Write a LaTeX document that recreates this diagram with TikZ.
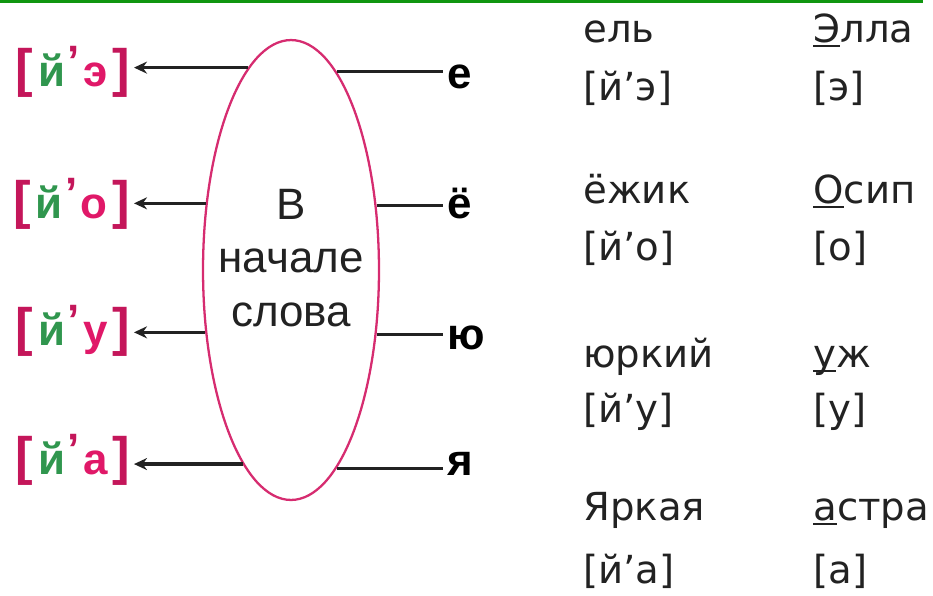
\documentclass[tikz,border=0pt]{standalone}
\usepackage{fontspec}
\setmainfont{Liberation Sans}
\newfontfamily\dejavu{DejaVu Sans}
\usetikzlibrary{shapes.geometric,arrows.meta}
\definecolor{jred}{RGB}{196,22,90}
\definecolor{jpink}{RGB}{224,24,104}
\definecolor{jgreen}{RGB}{48,150,78}
\definecolor{ovalpink}{RGB}{214,44,112}
\definecolor{topgreen}{RGB}{16,150,16}
\definecolor{ink}{RGB}{34,34,34}
% [й'x] with coloured parts
\newcommand{\ylab}[1]{{\fontsize{30}{30}\selectfont\color{jred}[}\kern0.12em{\color{jgreen}й}\kern0.05em\raisebox{0.22em}{\color{jred}’}\kern0.08em{\color{jpink}#1}\kern0.1em{\fontsize{30}{30}\selectfont\color{jred}]}}
\newcommand{\vowelline}[1]{\setbox0\hbox{#1}\rlap{\rule[-0.14em]{\wd0}{0.06em}}\box0}

\begin{document}
\begin{tikzpicture}[x=0.02cm, y=-0.02cm,
  sound/.style={anchor=base east, inner sep=0.08cm, font=\bfseries\fontsize{25}{25}\selectfont},
  letter/.style={anchor=base west, inner sep=0.08cm, text=black, font=\bfseries\fontsize{25}{25}\selectfont},
  word/.style={anchor=base west, inner sep=0pt, text=ink, font=\dejavu\fontsize{22}{22}\selectfont},
  pointer/.style={line width=1.8pt, draw=ink, -{Stealth[length=0.26cm,width=0.24cm]}},
  link/.style={line width=1.8pt, draw=ink}]
  \useasboundingbox (0,0) rectangle (933,595);
  \fill[topgreen] (0,0) rectangle (923,3);

  \node[ellipse, draw=ovalpink, line width=1.3pt, minimum width=3.52cm,
    minimum height=9.2cm, inner sep=0pt] (oval) at (291,270) {};
  \node[align=center, text=ink, font=\fontsize{25}{30.5}\selectfont] (inside)
    at (291,258) {В\\начале\\слова};

  \node[sound] (ye) at (134,86)  {\ylab{э}};
  \node[sound] (yo) at (134,218) {\ylab{о}};
  \node[sound] (yu) at (134,345) {\ylab{у}};
  \node[sound] (ya) at (134,474) {\ylab{а}};

  \node[letter] (le) at (443,88)  {е};
  \node[letter] (lo) at (443,218) {ё};
  \node[letter] (lu) at (443,349) {ю};
  \node[letter] (la) at (443,475) {я};

  \draw[pointer] (oval.102.75) -- (oval.102.75 -| ye.east);
  \draw[pointer] (oval.142.4)  -- (oval.142.4 -| yo.east);
  \draw[pointer] (oval.216.7)  -- (oval.216.7 -| yu.east);
  \draw[pointer] (oval.256.1)  -- (oval.256.1 -| ya.east);
  \draw[link] (oval.77.25) -- (oval.77.25 -| le.west);
  \draw[link] (oval.37.6)  -- (oval.37.6 -| lo.west);
  \draw[link] (oval.323.3) -- (oval.323.3 -| lu.west);
  \draw[link] (oval.283.9) -- (oval.283.9 -| la.west);

  \node[word] (w1) at (583,42)  {ель};
  \node[word] (t1) at (583,100) {[й’э]};
  \node[word] (w2) at (583,203) {ёжик};
  \node[word] (t2) at (583,260) {[й’о]};
  \node[word] (w3) at (583,367) {юркий};
  \node[word] (t3) at (583,422) {[й’у]};
  \node[word] (w4) at (583,520) {Яркая};
  \node[word] (t4) at (583,583) {[й’а]};

  \node[word] (v1) at (813,42)  {\vowelline{Э}лла};
  \node[word] (s1) at (813,100) {[э]};
  \node[word] (v2) at (813,203) {\vowelline{О}сип};
  \node[word] (s2) at (813,260) {[о]};
  \node[word] (v3) at (813,367) {\vowelline{у}ж};
  \node[word] (s3) at (813,422) {[у]};
  \node[word] (v4) at (813,520) {\vowelline{а}стра};
  \node[word] (s4) at (813,583) {[а]};
\end{tikzpicture}
\end{document}
